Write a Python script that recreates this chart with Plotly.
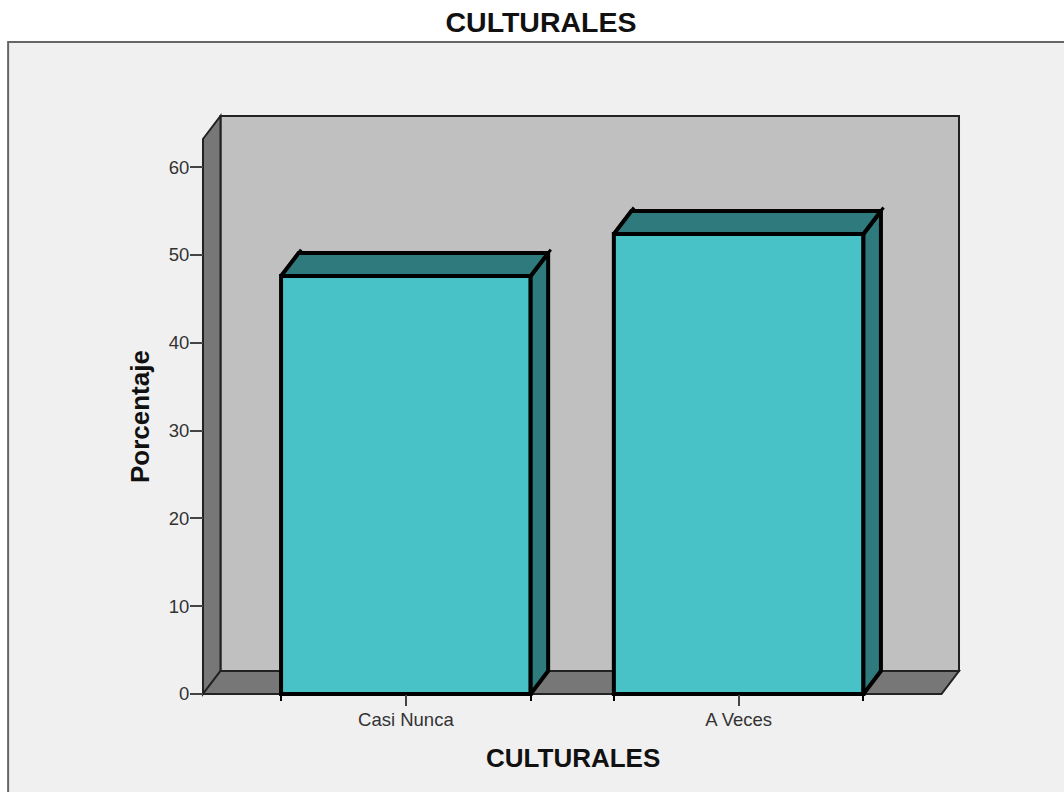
import plotly.graph_objects as go

# Survey results: percentage of answers per category
categories = ["Casi Nunca", "A Veces"]
percentages = [47.6, 52.4]
y_ticks = [0, 10, 20, 30, 40, 50, 60]
chart_title = "CULTURALES"
x_title = "CULTURALES"
y_title = "Porcentaje"

WIDTH, HEIGHT = 1064, 792
LEFT, RIGHT, TOP, BOTTOM = 203, 959.5, 116, 694  # chart box in page pixels
PAD = 8                                           # room for strokes around the box

# Axis scales
X_UNIT = 333.0           # pixels between category centres
Y_UNIT = 8.78            # pixels per percentage point
CAT0_PX = 406.0
x_min = (LEFT - CAT0_PX) / X_UNIT
x_max = (RIGHT - CAT0_PX) / X_UNIT
y_max = (BOTTOM - TOP) / Y_UNIT
x_pad = PAD / X_UNIT
y_pad = PAD / Y_UNIT

# Oblique depth of the pseudo-3D box
dx = 17.5 / X_UNIT
dy = 23.0 / Y_UNIT
bar_width = 0.75

WALL = "#c0c0c0"
SHADE = "#777777"
EDGE = "#222222"
FRONT = "#48c2c7"
DARK = "#2e7a7c"
PANEL = "#f0f0f0"
BLACK = "#000000"

plot_w = RIGHT - LEFT + 2 * PAD
plot_h = BOTTOM - TOP + 2 * PAD


def px_x(px):
    """Page x pixel to paper fraction."""
    return (px - (LEFT - PAD)) / plot_w


def px_y(px):
    """Page y pixel to paper fraction."""
    return ((BOTTOM + PAD) - px) / plot_h


def poly(points):
    return "M" + " L".join(f"{x},{y}" for x, y in points) + " Z"


floor_right = x_max - dx

shapes = [
    # Grey panel behind the chart
    dict(type="rect", xref="paper", yref="paper", layer="below",
         x0=px_x(8), x1=px_x(WIDTH + 5), y0=px_y(HEIGHT + 5), y1=px_y(42),
         fillcolor=PANEL, line=dict(color="#666666", width=2)),
    # Back wall
    dict(type="path", layer="below", xref="x", yref="y",
         path=poly([(x_min + dx, dy), (x_max, dy), (x_max, y_max), (x_min + dx, y_max)]),
         fillcolor=WALL, line=dict(color=EDGE, width=2)),
    # Left side wall
    dict(type="path", layer="below", xref="x", yref="y",
         path=poly([(x_min, 0), (x_min + dx, dy), (x_min + dx, y_max), (x_min, y_max - dy)]),
         fillcolor=SHADE, line=dict(color=EDGE, width=2)),
    # Floor
    dict(type="path", layer="below", xref="x", yref="y",
         path=poly([(x_min, 0), (floor_right, 0), (x_max, dy), (x_min + dx, dy)]),
         fillcolor=SHADE, line=dict(color=EDGE, width=2)),
]

fig = go.Figure()

# Front faces of the bars
fig.add_trace(go.Bar(
    x=[0, 1], y=percentages, width=bar_width,
    marker=dict(color=FRONT, line=dict(color=BLACK, width=4)),
    hoverinfo="skip", showlegend=False,
))

# Top and side faces, offset from each bar by the box depth
half = bar_width / 2
over = 1.15  # the receding edges overshoot their back corner slightly
for i, value in enumerate(percentages):
    l, r = i - half, i + half
    top = [(l, value), (l + dx, value + dy), (r + dx, value + dy), (r, value), (l, value)]
    side = [(r, value), (r + dx, value + dy), (r + dx, dy), (r, 0), (r, value)]
    for pts in (side, top):
        fig.add_trace(go.Scatter(
            x=[p[0] for p in pts], y=[p[1] for p in pts],
            mode="lines", fill="toself", fillcolor=DARK,
            line=dict(color=BLACK, width=4),
            hoverinfo="skip", showlegend=False,
        ))
    for corner in (l, r):
        fig.add_trace(go.Scatter(
            x=[corner, corner + dx * over], y=[value, value + dy * over],
            mode="lines", line=dict(color=BLACK, width=3),
            hoverinfo="skip", showlegend=False,
        ))

edge_ticks = [c + s * half for c in (0, 1) for s in (-1, 1)]

TITLE_FONT = dict(size=26, color="#111111")
annotations = [
    dict(text=f"<b>{x_title}</b>", xref="paper", yref="paper", x=px_x(573), y=px_y(758),
         showarrow=False, xanchor="center", yanchor="middle", font=TITLE_FONT),
    dict(text=f"<b>{y_title}</b>", xref="paper", yref="paper", x=px_x(140), y=px_y(417),
         showarrow=False, xanchor="center", yanchor="middle", textangle=-90, font=TITLE_FONT),
]

fig.update_layout(
    width=WIDTH, height=HEIGHT,
    margin=dict(l=LEFT - PAD, r=WIDTH - RIGHT - PAD, t=TOP - PAD, b=HEIGHT - BOTTOM - PAD,
                autoexpand=False),
    paper_bgcolor="#ffffff", plot_bgcolor="rgba(0,0,0,0)",
    font=dict(family="Liberation Sans, Arial, sans-serif", color="#222222"),
    shapes=shapes,
    annotations=annotations,
    title=dict(text=f"<b>{chart_title}</b>", font=dict(size=28.5, color="#111111"),
               x=541 / WIDTH, xanchor="center", y=1 - 22 / HEIGHT, yanchor="middle"),
    xaxis=dict(
        range=[x_min - x_pad, x_max + x_pad], showgrid=False, zeroline=False, showline=False,
        anchor="free", position=px_y(BOTTOM),
        tickmode="array", tickvals=[0, 1], ticktext=categories,
        ticks="outside", ticklen=11, tickwidth=2, tickcolor="#444444",
        tickfont=dict(size=18.5, color="#333333"),
        ticklabelstandoff=-2,
        minor=dict(tickmode="array", tickvals=edge_ticks, ticks="outside",
                   ticklen=6, tickwidth=2, tickcolor=BLACK, showgrid=False),
    ),
    yaxis=dict(
        range=[-y_pad, y_max + y_pad], showgrid=False, zeroline=False, showline=False,
        anchor="free", position=px_x(LEFT),
        tickmode="array", tickvals=y_ticks,
        ticks="outside", ticklen=13, tickwidth=2, tickcolor="#444444",
        tickfont=dict(size=18.5, color="#333333"),
        ticklabelstandoff=-3,
    ),
)

fig.write_html("out.html", config={"displayModeBar": False})
